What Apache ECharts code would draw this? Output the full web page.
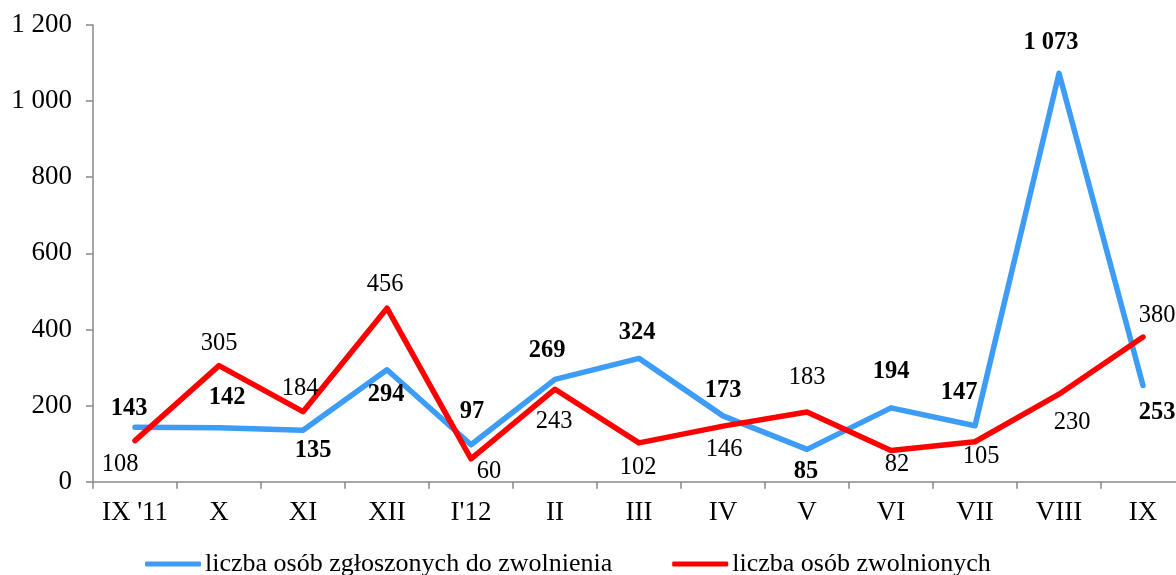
<!DOCTYPE html>
<html>
<head>
<meta charset="utf-8">
<script src="https://cdn.jsdelivr.net/npm/echarts@6/dist/echarts.min.js"></script>
<style>
html,body{margin:0;padding:0;background:#fff;overflow:hidden;width:1176px;height:575px;}
#chart{width:1200px;height:575px;}
</style>
</head>
<body>
<div id="chart"></div>
<script>
const categories = ["IX '11", "X", "XI", "XII", "I'12", "II", "III", "IV", "V", "VI", "VII", "VIII", "IX"];
const seriesNames = ["liczba osób zgłoszonych do zwolnienia", "liczba osób zwolnionych"];
const reported = [143, 142, 135, 294, 97, 269, 324, 173, 85, 194, 147, 1073, 253];
const dismissed = [108, 305, 184, 456, 60, 243, 102, 146, 183, 82, 105, 230, 380];
const yTicks = [0, 200, 400, 600, 800, 1000, 1200];

// label offsets (styling only)
const reportedLabelOffset = [[-6,-19],[8,-30],[10,20],[-1,25],[1,-33],[-8,-29],[-2,-26],[0,-25],[-1,22],[0,-36],[-16,-33],[-8,-31],[14,27]];
const dismissedLabelOffset = [[-15,24],[0,-22],[-3,-23],[-2,-24],[18,13],[-1,32],[-1,25],[1,23],[0,-34],[6,14],[6,15],[13,28],[14,-22]];

const FONT = "'Liberation Serif', 'Times New Roman', serif";
const fmt = v => String(v).replace(/\B(?=(\d{3})+(?!\d))/g, ' ');

function layoutFrom(offsets) {
  return p => ({ dx: offsets[p.dataIndex][0], dy: offsets[p.dataIndex][1], hideOverlap: false });
}

const chart = echarts.init(document.getElementById('chart'), null, { renderer: 'canvas' });
chart.setOption({
  animation: false,
  backgroundColor: '#ffffff',
  textStyle: { fontFamily: FONT },
  grid: { left: 93, top: 25, width: 1092, height: 456.7, containLabel: false },
  legend: {
    left: 140,
    top: 546,
    icon: 'roundRect',
    itemWidth: 56,
    itemHeight: 5,
    itemGap: 60,
    textStyle: { fontFamily: FONT, fontSize: 26, color: '#000', padding: [0, 0, 0, -1] },
    data: seriesNames
  },
  xAxis: {
    type: 'category',
    data: categories,
    boundaryGap: true,
    axisLine: { lineStyle: { color: '#888888', width: 1.5 } },
    axisTick: { show: true, interval: 0, length: 7, lineStyle: { color: '#888888', width: 1.5 } },
    axisLabel: { interval: 0, hideOverlap: false, fontFamily: FONT, fontSize: 27, color: '#000', margin: 18 },
    splitLine: { show: false }
  },
  yAxis: {
    type: 'value',
    min: yTicks[0],
    max: yTicks[yTicks.length - 1],
    interval: 200,
    axisLine: { show: true, lineStyle: { color: '#888888', width: 1.5 } },
    axisTick: { show: true, length: 7, lineStyle: { color: '#888888', width: 1.5 } },
    axisLabel: { fontFamily: FONT, fontSize: 27, color: '#000', margin: 21, formatter: v => fmt(v) },
    splitLine: { show: false }
  },
  series: [
    {
      name: seriesNames[0],
      type: 'line',
      data: reported,
      color: '#3c9cf6',
      lineStyle: { width: 5.5, color: '#3c9cf6', cap: 'round', join: 'round' },
      symbol: 'circle',
      symbolSize: 1,
      showSymbol: true,
      itemStyle: { color: '#3c9cf6' },
      label: {
        show: true,
        position: 'inside',
        align: 'center',
        verticalAlign: 'middle',
        fontFamily: FONT,
        fontSize: 24.5,
        fontWeight: 'bold',
        color: '#000',
        formatter: p => fmt(p.value)
      },
      labelLayout: layoutFrom(reportedLabelOffset),
      z: 2
    },
    {
      name: seriesNames[1],
      type: 'line',
      data: dismissed,
      color: '#ff0000',
      lineStyle: { width: 5.5, color: '#ff0000', cap: 'round', join: 'round' },
      symbol: 'circle',
      symbolSize: 1,
      showSymbol: true,
      itemStyle: { color: '#ff0000' },
      label: {
        show: true,
        position: 'inside',
        align: 'center',
        verticalAlign: 'middle',
        fontFamily: FONT,
        fontSize: 24.5,
        color: '#000',
        formatter: p => fmt(p.value)
      },
      labelLayout: layoutFrom(dismissedLabelOffset),
      z: 3
    }
  ]
});
</script>
</body>
</html>
